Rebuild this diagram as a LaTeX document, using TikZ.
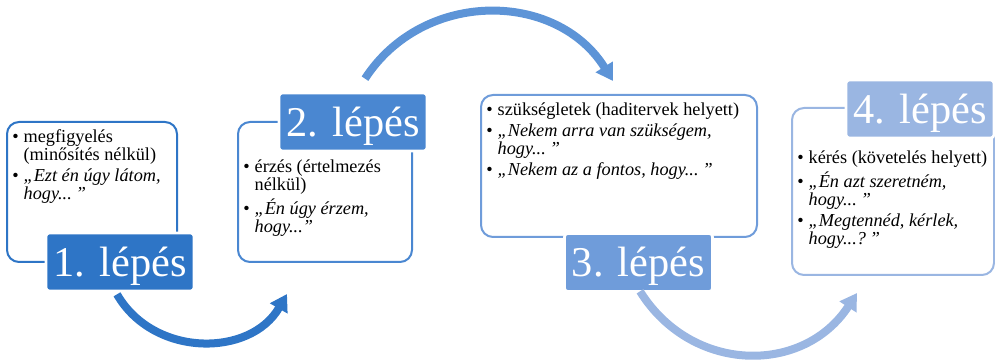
\documentclass[tikz,border=0pt]{standalone}
\usepackage{fontspec}
\setmainfont{Liberation Serif}
\usetikzlibrary{arrows.meta}
\definecolor{kek1}{HTML}{2E75C6}
\definecolor{kek2}{HTML}{4A87D1}
\definecolor{kek3}{HTML}{6F9CDA}
\definecolor{kek4}{HTML}{9AB6E2}
\definecolor{kekkoz}{HTML}{5D94D7}
\tikzset{
  doboz/.style={draw, line width=1.5pt, rounded corners=9pt, fill=white, inner sep=0pt},
  cimke/.style={draw=white, line width=2pt, rounded corners=2.5pt, text=white,
    minimum width=111pt, minimum height=43.5pt, inner sep=0pt,
    text height=21.6pt, text depth=0pt, font=\fontsize{31.8}{32}\selectfont},
  szoveg/.style={anchor=north west, inner sep=0pt, font=\fontsize{13.7}{13.5}\selectfont},
  nyil/.style={line width=6pt, -{Triangle[length=12.5pt,width=14.5pt]}}
}
\newcommand{\pont}{\textbullet}
\newcommand{\zaro}{\hspace{3pt}”}

\begin{document}
\begin{tikzpicture}[x=0.75pt,y=0.75pt]
  \useasboundingbox (0,0) rectangle (995,360);
  % dobozok
  \node[doboz, draw=kek1, minimum width=127.5pt, minimum height=105pt] (d1) at (92,168) {};
  \node[doboz, draw=kek2, minimum width=130.5pt, minimum height=105pt] (d2) at (325,168) {};
  \node[doboz, draw=kek3, minimum width=207pt, minimum height=106.5pt] (d3) at (619,194) {};
  \node[doboz, draw=kek4, minimum width=151.5pt, minimum height=125.25pt] (d4) at (893,168.5) {};
  % cimkek
  \node[cimke, fill=kek1] (l1) at (120,98) {1. lépés};
  \node[cimke, fill=kek2] (l2) at (353,238) {2. lépés};
  \node[cimke, fill=kek3] (l3) at (638.5,97.5) {3. lépés};
  \node[cimke, fill=kek4] (l4) at (920,251) {4. lépés};
  % szovegek
  \node[szoveg] (t1) at ([shift={(6,-8.4)}]d1.north west) {%
    \begin{tabular}{@{}l@{\hspace{3.75pt}}l@{}}
      \pont & megfigyelés\\
            & (minősítés nélkül)\\[2.25pt]
      \pont & \itshape „Ezt én úgy látom,\\
            & \itshape hogy...\zaro
    \end{tabular}};
  \node[szoveg] (t2) at ([shift={(6,-38.4)}]d2.north west) {%
    \begin{tabular}{@{}l@{\hspace{3.75pt}}l@{}}
      \pont & érzés (értelmezés\\
            & nélkül)\\[2.25pt]
      \pont & \itshape „Én úgy érzem,\\
            & \itshape hogy...”
    \end{tabular}};
  \node[szoveg] (t3) at ([shift={(6,-8.4)}]d3.north west) {%
    \begin{tabular}{@{}l@{\hspace{3.75pt}}l@{}}
      \pont & szükségletek (haditervek helyett)\\[2.25pt]
      \pont & \itshape „Nekem arra van szükségem,\\
            & \itshape hogy...\zaro\\[2.25pt]
      \pont & \itshape „Nekem az a fontos, hogy...\zaro
    \end{tabular}};
  \node[szoveg] (t4) at ([shift={(6,-43.4)}]d4.north west) {%
    \begin{tabular}{@{}l@{\hspace{3.75pt}}l@{}}
      \pont & kérés (követelés helyett)\\[2.25pt]
      \pont & \itshape „Én azt szeretném,\\
            & \itshape hogy...\zaro\\[2.25pt]
      \pont & \itshape „Megtennéd, kérlek,\\
            & \itshape hogy...?\zaro
    \end{tabular}};
  % nyilak
  \draw[nyil, kek1] ([shift={(-3,-2)}]l1.south) to[out=-60, in=-120, looseness=1.1] ([shift={(50,-31)}]d2.south west);
  \draw[nyil, kekkoz] ([shift={(12,13)}]l2.north) to[out=57, in=122, looseness=1.1] ([shift={(-6,13)}]d3.north);
  \draw[nyil, kek4] ([shift={(1.5,1.5)}]l3.south) to[out=-58, in=-123, looseness=1.15] ([shift={(66,-17)}]d4.south west);
\end{tikzpicture}
\end{document}
